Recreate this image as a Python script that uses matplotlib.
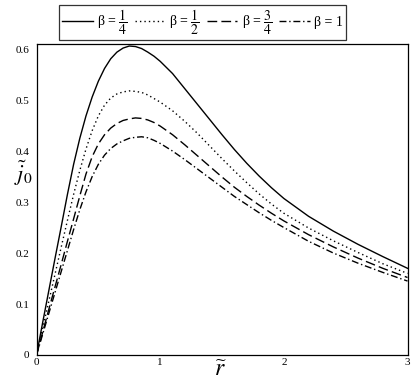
import matplotlib
matplotlib.use("Agg")
import matplotlib.pyplot as plt

plt.rcParams['font.family'] = ['Liberation Serif', 'DejaVu Serif']
plt.rcParams['mathtext.fontset'] = 'stix'

r_vals = [0, 0.05, 0.1, 0.15, 0.2, 0.25, 0.3, 0.35, 0.4, 0.45, 0.5, 0.55, 0.6, 0.65, 0.7,
          0.75, 0.8, 0.85, 0.9, 0.95, 1.0, 1.1, 1.2, 1.3, 1.4, 1.5, 1.6, 1.7, 1.8, 1.9,
          2.0, 2.2, 2.4, 2.6, 2.8, 3.0]

j_beta_quarter = [0, 0.064, 0.127, 0.19, 0.252, 0.315, 0.374, 0.425, 0.469, 0.506, 0.537,
                  0.562, 0.581, 0.594, 0.602, 0.606, 0.605, 0.601, 0.594, 0.586, 0.576,
                  0.552, 0.522, 0.492, 0.462, 0.432, 0.403, 0.376, 0.351, 0.328, 0.307,
                  0.272, 0.243, 0.217, 0.193, 0.170]
j_beta_half = [0, 0.053, 0.106, 0.159, 0.212, 0.264, 0.315, 0.362, 0.404, 0.44, 0.469,
               0.49, 0.504, 0.512, 0.516, 0.518, 0.517, 0.515, 0.510, 0.503, 0.496,
               0.479, 0.458, 0.435, 0.410, 0.385, 0.361, 0.338, 0.316, 0.296, 0.278,
               0.249, 0.224, 0.201, 0.179, 0.160]
j_beta_three_quarter = [0, 0.045, 0.09, 0.134, 0.178, 0.223, 0.267, 0.312, 0.355, 0.389,
                        0.414, 0.432, 0.445, 0.454, 0.460, 0.463, 0.465, 0.464, 0.461,
                        0.456, 0.449, 0.432, 0.412, 0.391, 0.370, 0.349, 0.329, 0.311,
                        0.294, 0.278, 0.263, 0.236, 0.212, 0.190, 0.170, 0.152]
j_beta_one = [0, 0.041, 0.082, 0.123, 0.164, 0.205, 0.246, 0.285, 0.32, 0.35, 0.374,
              0.392, 0.405, 0.414, 0.42, 0.425, 0.427, 0.428, 0.426, 0.421, 0.415,
              0.400, 0.383, 0.365, 0.347, 0.329, 0.311, 0.295, 0.279, 0.264, 0.250,
              0.223, 0.200, 0.180, 0.162, 0.145]

labels = ['β = $\\dfrac{1}{4}$', 'β = $\\dfrac{1}{2}$', 'β = $\\dfrac{3}{4}$', 'β = 1']
x_ticks = [0, 1, 2, 3]
x_tick_labels = ['0', '1', '2', '3']
y_ticks = [0, 0.1, 0.2, 0.3, 0.4, 0.5, 0.6]
y_tick_labels = ['0', '0.1', '0.2', '0.3', '0.4', '0.5', '0.6']

fig = plt.figure(figsize=(4.15, 3.92), dpi=100)
ax = fig.add_axes([0.088, 0.0944, 0.894, 0.7934])

lw = 1.0
l1, = ax.plot(r_vals, j_beta_quarter, color='black', lw=lw, linestyle='-')
l2, = ax.plot(r_vals, j_beta_half, color='black', lw=lw, linestyle=(0, (1, 2.2)))
l3, = ax.plot(r_vals, j_beta_three_quarter, color='black', lw=lw, linestyle=(0, (7, 3)))
l4, = ax.plot(r_vals, j_beta_one, color='black', lw=lw, linestyle=(0, (5, 2, 1, 2)))

ax.set_xlim(0, 3)
ax.set_ylim(0, 0.61)
ax.set_xticks(x_ticks)
ax.set_xticklabels(x_tick_labels)
ax.set_yticks(y_ticks)
ax.set_yticklabels(y_tick_labels)
ax.tick_params(axis='both', length=0, labelsize=8)
ax.tick_params(axis='x', pad=2)
ax.tick_params(axis='y', pad=5)
for s in ax.spines.values():
    s.set_linewidth(0.9)
    s.set_color('black')

fig.text(0.53, 0.055, r'$\widetilde{r}$', fontsize=17, ha='center', va='center')
fig.text(0.056, 0.558, r'$\tilde{j}_{\mathit{0}}$', fontsize=16, ha='center', va='center')

leg = fig.legend([l1, l2, l3, l4], labels, loc='center', bbox_to_anchor=(0.488, 0.9435),
                 ncol=4, frameon=True, fancybox=False, edgecolor='black',
                 fontsize=10, handlelength=2.2, handletextpad=0.3, columnspacing=0.5,
                 borderpad=0.2, borderaxespad=0)
leg.get_frame().set_linewidth(0.9)

fig.savefig('out.png', dpi=100)
